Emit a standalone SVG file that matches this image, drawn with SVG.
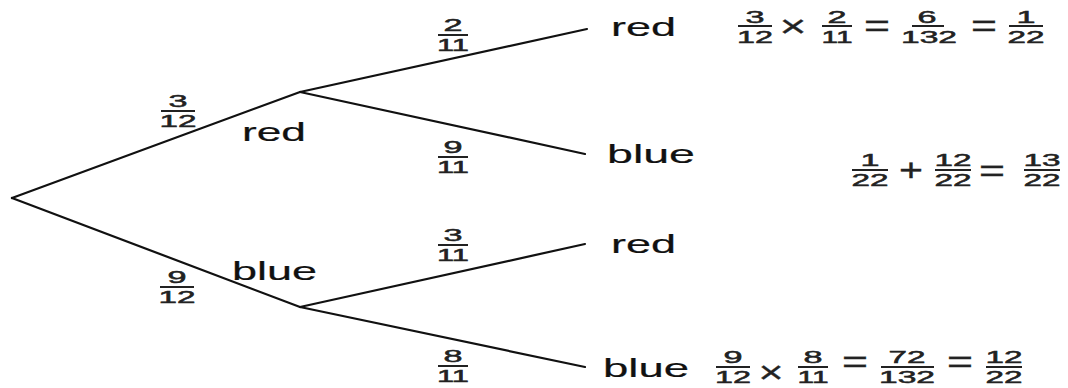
<svg xmlns="http://www.w3.org/2000/svg" width="1068" height="388" viewBox="0 0 1068 388">
  <style>
    .edge { stroke: #111; stroke-width: 2.2; fill: none; stroke-linecap: round; }
    .bar { stroke: #222; stroke-width: 2; }
    .word { font-family: "Liberation Sans", Arial, sans-serif; font-size: 26px; fill: #111; stroke: #111; stroke-width: 0.2; }
    .dig { font-family: "Liberation Sans", Arial, sans-serif; font-size: 17px; fill: #222; stroke: #222; stroke-width: 0.5; text-anchor: middle; }
    .op { font-family: "Liberation Sans", Arial, sans-serif; font-size: 32px; fill: #222; stroke: #222; stroke-width: 0.3; text-anchor: middle; }
  </style>
  <rect width="1068" height="388" fill="#fff"/>

  <!-- branches of the probability tree -->
  <g id="connectors">
    <line class="edge" x1="12" y1="198" x2="300" y2="92"/>
    <line class="edge" x1="12" y1="198" x2="300" y2="307"/>
    <line class="edge" x1="300" y1="92" x2="587" y2="29"/>
    <line class="edge" x1="300" y1="92" x2="585" y2="154"/>
    <line class="edge" x1="300" y1="307" x2="585" y2="244"/>
    <line class="edge" x1="300" y1="307" x2="585" y2="367"/>
  </g>

  <!-- branch probabilities -->
  <g id="p-first-red">
    <text class="dig" x="178" y="107" textLength="19" lengthAdjust="spacingAndGlyphs">3</text>
    <line class="bar" x1="161" y1="111" x2="195" y2="111"/>
    <text class="dig" x="178" y="127" textLength="37" lengthAdjust="spacingAndGlyphs">12</text>
  </g>
  <g id="p-first-blue">
    <text class="dig" x="177" y="283" textLength="19" lengthAdjust="spacingAndGlyphs">9</text>
    <line class="bar" x1="160" y1="287" x2="194" y2="287"/>
    <text class="dig" x="177" y="303" textLength="37" lengthAdjust="spacingAndGlyphs">12</text>
  </g>
  <g id="p-red-red">
    <text class="dig" x="453" y="31" textLength="19" lengthAdjust="spacingAndGlyphs">2</text>
    <line class="bar" x1="438" y1="35" x2="468" y2="35"/>
    <text class="dig" x="453" y="51" textLength="32" lengthAdjust="spacingAndGlyphs">11</text>
  </g>
  <g id="p-red-blue">
    <text class="dig" x="453" y="153" textLength="19" lengthAdjust="spacingAndGlyphs">9</text>
    <line class="bar" x1="438" y1="157" x2="468" y2="157"/>
    <text class="dig" x="453" y="173" textLength="32" lengthAdjust="spacingAndGlyphs">11</text>
  </g>
  <g id="p-blue-red">
    <text class="dig" x="453" y="241" textLength="19" lengthAdjust="spacingAndGlyphs">3</text>
    <line class="bar" x1="438" y1="245" x2="468" y2="245"/>
    <text class="dig" x="453" y="261" textLength="32" lengthAdjust="spacingAndGlyphs">11</text>
  </g>
  <g id="p-blue-blue">
    <text class="dig" x="453" y="362" textLength="19" lengthAdjust="spacingAndGlyphs">8</text>
    <line class="bar" x1="438" y1="366" x2="468" y2="366"/>
    <text class="dig" x="453" y="382" textLength="32" lengthAdjust="spacingAndGlyphs">11</text>
  </g>

  <!-- outcome labels -->
  <g id="node-red"><text class="word" x="242" y="141" textLength="64" lengthAdjust="spacingAndGlyphs">red</text></g>
  <g id="node-blue"><text class="word" x="232" y="280" textLength="85" lengthAdjust="spacingAndGlyphs">blue</text></g>
  <g id="node-red-red"><text class="word" x="611" y="36" textLength="65" lengthAdjust="spacingAndGlyphs">red</text></g>
  <g id="node-red-blue"><text class="word" x="607" y="163" textLength="88" lengthAdjust="spacingAndGlyphs">blue</text></g>
  <g id="node-blue-red"><text class="word" x="611" y="253" textLength="65" lengthAdjust="spacingAndGlyphs">red</text></g>
  <g id="node-blue-blue"><text class="word" x="603" y="377" textLength="86" lengthAdjust="spacingAndGlyphs">blue</text></g>

  <!-- P(red, red) -->
  <g id="calc-red-red">
    <text class="dig" x="755" y="23" textLength="19" lengthAdjust="spacingAndGlyphs">3</text>
    <line class="bar" x1="738" y1="26" x2="772" y2="26"/>
    <text class="dig" x="755" y="43" textLength="36" lengthAdjust="spacingAndGlyphs">12</text>
    <text class="op" x="793" y="37" textLength="27" lengthAdjust="spacingAndGlyphs">×</text>
    <text class="dig" x="837" y="23" textLength="19" lengthAdjust="spacingAndGlyphs">2</text>
    <line class="bar" x1="822" y1="26" x2="852" y2="26"/>
    <text class="dig" x="837" y="43" textLength="31" lengthAdjust="spacingAndGlyphs">11</text>
    <text class="op" x="877" y="36" textLength="26" lengthAdjust="spacingAndGlyphs">=</text>
    <text class="dig" x="927" y="23" textLength="19" lengthAdjust="spacingAndGlyphs">6</text>
    <line class="bar" x1="912" y1="26" x2="944" y2="26"/>
    <text class="dig" x="929" y="43" textLength="56" lengthAdjust="spacingAndGlyphs">132</text>
    <text class="op" x="984" y="36" textLength="26" lengthAdjust="spacingAndGlyphs">=</text>
    <text class="dig" x="1026" y="23" textLength="19" lengthAdjust="spacingAndGlyphs">1</text>
    <line class="bar" x1="1009" y1="26" x2="1043" y2="26"/>
    <text class="dig" x="1026" y="43" textLength="37" lengthAdjust="spacingAndGlyphs">22</text>
  </g>

  <!-- P(one of each colour) -->
  <g id="calc-sum">
    <text class="dig" x="870" y="166" textLength="19" lengthAdjust="spacingAndGlyphs">1</text>
    <line class="bar" x1="852" y1="170" x2="888" y2="170"/>
    <text class="dig" x="870" y="186" textLength="37" lengthAdjust="spacingAndGlyphs">22</text>
    <text class="op" x="911" y="181" textLength="24" lengthAdjust="spacingAndGlyphs">+</text>
    <text class="dig" x="953" y="166" textLength="37" lengthAdjust="spacingAndGlyphs">12</text>
    <line class="bar" x1="935" y1="170" x2="971" y2="170"/>
    <text class="dig" x="953" y="186" textLength="37" lengthAdjust="spacingAndGlyphs">22</text>
    <text class="op" x="992" y="181" textLength="26" lengthAdjust="spacingAndGlyphs">=</text>
    <text class="dig" x="1042" y="166" textLength="37" lengthAdjust="spacingAndGlyphs">13</text>
    <line class="bar" x1="1024" y1="170" x2="1060" y2="170"/>
    <text class="dig" x="1042" y="186" textLength="37" lengthAdjust="spacingAndGlyphs">22</text>
  </g>

  <!-- P(blue, blue) -->
  <g id="calc-blue-blue">
    <text class="dig" x="733" y="363" textLength="19" lengthAdjust="spacingAndGlyphs">9</text>
    <line class="bar" x1="716" y1="367" x2="750" y2="367"/>
    <text class="dig" x="733" y="383" textLength="36" lengthAdjust="spacingAndGlyphs">12</text>
    <text class="op" x="771" y="383" font-size="24" textLength="25" lengthAdjust="spacingAndGlyphs">×</text>
    <text class="dig" x="813" y="363" textLength="19" lengthAdjust="spacingAndGlyphs">8</text>
    <line class="bar" x1="798" y1="367" x2="828" y2="367"/>
    <text class="dig" x="813" y="383" textLength="31" lengthAdjust="spacingAndGlyphs">11</text>
    <text class="op" x="855" y="372" textLength="26" lengthAdjust="spacingAndGlyphs">=</text>
    <text class="dig" x="907" y="363" textLength="37" lengthAdjust="spacingAndGlyphs">72</text>
    <line class="bar" x1="881" y1="367" x2="934" y2="367"/>
    <text class="dig" x="907" y="383" textLength="56" lengthAdjust="spacingAndGlyphs">132</text>
    <text class="op" x="960" y="372" textLength="26" lengthAdjust="spacingAndGlyphs">=</text>
    <text class="dig" x="1004" y="363" textLength="37" lengthAdjust="spacingAndGlyphs">12</text>
    <line class="bar" x1="986" y1="367" x2="1022" y2="367"/>
    <text class="dig" x="1004" y="383" textLength="37" lengthAdjust="spacingAndGlyphs">22</text>
  </g>
</svg>
